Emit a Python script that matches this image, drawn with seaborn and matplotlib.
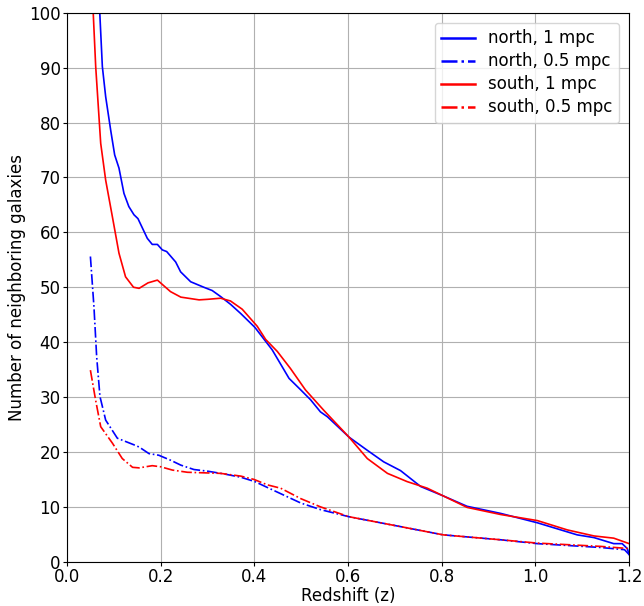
import matplotlib
matplotlib.use("Agg")
import matplotlib.pyplot as plt
import seaborn as sns
import pandas as pd

# north, 1 mpc
north1_z = [0.05, 0.06, 0.070, 0.0755, 0.0826, 0.0933, 0.1018, 0.111, 0.1216, 0.132, 0.143, 0.1515,
            0.1715, 0.182, 0.193, 0.2035, 0.2128, 0.232, 0.2426, 0.264, 0.292, 0.310, 0.328, 0.349,
            0.371, 0.401, 0.438, 0.474, 0.499, 0.520, 0.541, 0.556, 0.602, 0.641, 0.676, 0.712,
            0.755, 0.803, 0.854, 0.926, 1.004, 1.089, 1.125, 1.167, 1.185, 1.196, 1.2]
north1_n = [160, 122, 100, 90.2, 84.7, 78.6, 74.1, 71.7, 67.1, 64.7, 63.2, 62.5,
            58.9, 57.8, 57.8, 56.8, 56.5, 54.6, 52.8, 51.0, 50.0, 49.4, 48.3, 46.9,
            45.2, 42.7, 38.6, 33.4, 31.3, 29.5, 27.3, 26.4, 22.7, 20.3, 18.2, 16.6,
            13.7, 12.0, 10.1, 8.8, 7.1, 4.9, 4.4, 3.3, 3.3, 2.4, 1.3]

# north, 0.5 mpc
north05_z = [0.05, 0.0576, 0.0634, 0.0704, 0.0826, 0.1075, 0.143, 0.154, 0.175, 0.196, 0.221, 0.243,
             0.271, 0.300, 0.335, 0.371, 0.401, 0.431, 0.499, 0.541, 0.602, 0.712, 0.803, 0.926,
             1.004, 1.139, 1.19, 1.2]
north05_n = [55.6, 46.4, 37.3, 30.1, 25.8, 22.5, 21.3, 20.9, 19.7, 19.4, 18.5, 17.6,
             16.8, 16.5, 16.0, 15.4, 14.6, 13.4, 10.7, 9.5, 8.2, 6.4, 4.9, 4.0,
             3.3, 2.6, 2.2, 1.3]

# south, 1 mpc
south1_z = [0.05, 0.056, 0.0613, 0.072, 0.0826, 0.097, 0.111, 0.125, 0.142, 0.154, 0.173, 0.193,
            0.221, 0.243, 0.282, 0.300, 0.328, 0.349, 0.374, 0.406, 0.424, 0.449, 0.477, 0.509,
            0.548, 0.602, 0.641, 0.684, 0.726, 0.769, 0.803, 0.854, 0.926, 1.004, 1.068, 1.125,
            1.167, 1.2]
south1_n = [112, 100, 90.2, 76.2, 69.5, 62.8, 56.2, 51.9, 50.0, 49.8, 50.8, 51.3,
            49.2, 48.2, 47.7, 47.8, 48.0, 47.5, 46.0, 42.9, 40.5, 38.3, 35.2, 31.3,
            27.6, 22.7, 18.8, 16.1, 14.6, 13.4, 12.0, 9.9, 8.6, 7.5, 5.8, 4.7,
            4.3, 3.3]

# south, 0.5 mpc
south05_z = [0.05, 0.061, 0.072, 0.097, 0.118, 0.140, 0.154, 0.182, 0.200, 0.225, 0.257, 0.292,
             0.328, 0.371, 0.399, 0.428, 0.456, 0.499, 0.541, 0.602, 0.712, 0.803, 0.926,
             1.004, 1.139, 1.2]
south05_n = [34.9, 29.5, 24.6, 21.6, 18.8, 17.2, 17.1, 17.5, 17.3, 16.7, 16.3, 16.2,
             16.1, 15.6, 15.0, 14.0, 13.4, 11.5, 10.0, 8.2, 6.4, 4.9, 4.0,
             3.4, 2.8, 2.4]

series = [
    ("north, 1 mpc", north1_z, north1_n, "blue", "-"),
    ("north, 0.5 mpc", north05_z, north05_n, "blue", "-."),
    ("south, 1 mpc", south1_z, south1_n, "red", "-"),
    ("south, 0.5 mpc", south05_z, south05_n, "red", "-."),
]

plt.rcParams['font.family'] = ['DejaVu Sans']
fig = plt.figure(figsize=(6.44, 6.06), dpi=100)
ax = fig.add_axes([0.104, 0.073, 0.873, 0.906])

for label, z, n, color, ls in series:
    df = pd.DataFrame({"z": z, "n": n})
    sns.lineplot(data=df, x="z", y="n", ax=ax, color=color, linestyle=ls,
                 linewidth=1.2, label=label, estimator=None, sort=False)

ax.set_xlim(0, 1.2)
ax.set_ylim(0, 100)
ax.set_xticks([0.0, 0.2, 0.4, 0.6, 0.8, 1.0, 1.2])
ax.set_yticks(range(0, 101, 10))
ax.grid(True, color="#b0b0b0", linewidth=0.8)
ax.set_axisbelow(True)
ax.tick_params(labelsize=12, length=3, pad=1.5)
ax.set_xlabel("Redshift (z)", fontsize=12, labelpad=1)
ax.set_ylabel("Number of neighboring galaxies", fontsize=12, labelpad=2)
leg = ax.legend(loc="upper right", fontsize=12, labelspacing=0.3,
                handlelength=2.0, borderaxespad=0.6)
for h in leg.get_lines():
    h.set_linewidth(1.8)

fig.savefig("out.png", dpi=100)
